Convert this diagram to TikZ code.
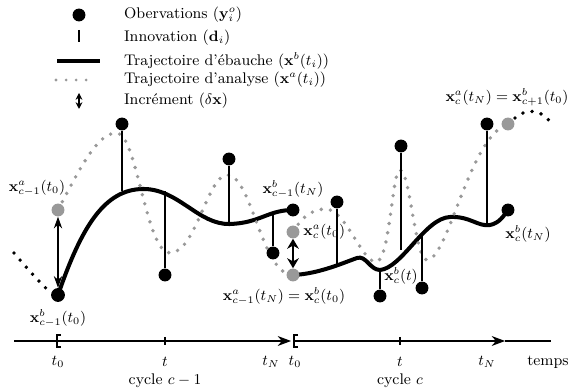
\documentclass[tikz,border=0pt]{standalone}
\usepackage{amsmath}
\usetikzlibrary{arrows.meta,positioning,calc}

\begin{document}
\begin{tikzpicture}[
    x=0.021cm, y=-0.021cm,
    >={Stealth[length=8pt,width=6pt]},
    every node/.style={font=\fontsize{9.2}{11}\selectfont},
    obs/.style={circle, fill=black, inner sep=0pt, minimum size=0.27cm},
    pgris/.style={circle, fill=gray!80, inner sep=0pt, minimum size=0.27cm},
    innov/.style={line width=0.7pt},
    ebauche/.style={line width=2.4pt, line cap=round},
    analyse/.style={gray!80, line width=2.3pt, line cap=round, dash pattern=on 0pt off 5.6pt},
    pointille/.style={black, line width=2.3pt, line cap=round, dash pattern=on 0pt off 5.6pt},
    incr/.style={{Stealth[length=7pt,width=5pt]}-{Stealth[length=7pt,width=5pt]}, line width=0.7pt},
    legende/.style={anchor=west, inner sep=1pt},
    etiq/.style={inner sep=1pt},
    crochet/.style={line width=1.4pt}
  ]
  \useasboundingbox (0,0) rectangle (571,389);

  % Légende
  \node[obs] (lobs) at (79,15) {};
  \node[legende] (tobs) at (122,15) {Obervations ($\mathbf{y}^o_i$)};
  \coordinate (li1) at (79,30);
  \coordinate (li2) at (79,42);
  \draw[line width=1pt] (li1) -- (li2);
  \node[legende] (tinn) at (122,38) {Innovation ($\mathbf{d}_i$)};
  \coordinate (le1) at (57,61);
  \coordinate (le2) at (100,61);
  \draw[ebauche, line cap=butt] (le1) -- (le2);
  \node[legende] (teb) at (122,61) {Trajectoire d'ébauche ($\mathbf{x}^b(t_i)$)};
  \coordinate (la1) at (56,80);
  \coordinate (la2) at (96,80);
  \draw[analyse, line width=1.8pt, dash pattern=on 0pt off 6pt] (la1) -- (la2);
  \node[legende] (tan) at (122,80) {Trajectoire d'analyse ($\mathbf{x}^a(t_i)$)};
  \coordinate (lc1) at (79,93);
  \coordinate (lc2) at (79,109);
  \draw[{Stealth[length=4pt,width=4pt]}-{Stealth[length=4pt,width=4pt]}, line width=1pt] (lc1) -- (lc2);
  \node[legende] (tinc) at (122,101) {Incrément ($\delta\mathbf{x}$)};

  % Points de départ et de fin des cycles
  \coordinate (b0) at (58,295);
  \coordinate (a0) at (58,210);
  \coordinate (bN) at (293,210);
  \coordinate (aN) at (293,275);
  \coordinate (ac0) at (293,232);
  \coordinate (bcN) at (508,210);
  \coordinate (acN) at (508,124);

  % Cycles précédent et suivant
  \coordinate (pp1) at (14,253);
  \coordinate (pp2) at (50,292);
  \draw[pointille] (pp1) .. controls (26,267) and (38,281) .. (pp2);
  \coordinate (ps1) at (515,118);
  \coordinate (ps2) at (553,126);
  \draw[pointille] (ps1) .. controls (526,108) and (542,108) .. (ps2);

  % Ébauches (cycles c-1 et c)
  \draw[ebauche] (b0) .. controls (82,225) and (105,190) .. (142,189)
     .. controls (178,188) and (198,225) .. (230,224)
     .. controls (260,223) and (268,210) .. (bN);
  \draw[ebauche] (aN) .. controls (318,274) and (343,263) .. (357,258)
     .. controls (366,255) and (370,270) .. (380,270)
     .. controls (402,268) and (425,218) .. (450,217)
     .. controls (470,216) and (478,227) .. (490,225)
     .. controls (500,223) and (504,215) .. (bcN);

  % Analyses
  \draw[analyse] (a0) .. controls (80,168) and (98,132) .. (117,133)
     .. controls (137,134) and (146,253) .. (170,253)
     .. controls (196,253) and (208,173) .. (228,175)
     .. controls (252,177) and (262,275) .. (aN);
  \draw[analyse] (ac0) .. controls (303,215) and (314,209) .. (326,209)
     .. controls (346,210) and (362,262) .. (376,262)
     .. controls (390,262) and (392,170) .. (400,170)
     .. controls (410,170) and (415,260) .. (427,260)
     .. controls (448,260) and (470,135) .. (acN);

  % Observations et innovations
  \foreach \n/\x/\y/\yb in {1/122/124/191, 2/165/275/191, 3/229/159/224,
      4/273/253/214, 5/337/202/267, 6/380/296/270, 7/401/146/250,
      8/422/288/236, 9/487/124/225}{
    \node[obs] (o\n) at (\x,\y) {};
    \coordinate (p\n) at (\x,\yb);
    \draw[innov] (o\n) -- (p\n);
  }

  % Points x^a et x^b
  \node[obs, minimum size=0.29cm] (nb0) at (b0) {};
  \node[pgris] (na0) at (a0) {};
  \node[obs] (nbN) at (bN) {};
  \node[pgris] (naN) at (aN) {};
  \node[pgris] (nac0) at (ac0) {};
  \node[obs] (nbcN) at (bcN) {};
  \node[pgris] (nacN) at (acN) {};

  % Incréments
  \draw[incr] (na0) -- (nb0);
  \draw[{Stealth[length=6pt,width=7pt]}-{Stealth[length=6pt,width=7pt]}, line width=1.6pt] (nac0) -- (naN);

  % Étiquettes
  \node[etiq] (ta0) at ($(a0)+(-21,-22)$) {$\mathbf{x}^a_{c-1}(t_0)$};
  \node[etiq, below=3pt of nb0] (tb0) {$\mathbf{x}^b_{c-1}(t_0)$};
  \node[etiq, above=2pt of nbN] (tbN) {$\mathbf{x}^b_{c-1}(t_N)$};
  \node[etiq, right=1pt of nac0] (tac0) {$\mathbf{x}^a_c(t_0)$};
  \node[etiq] (taN) at ($(aN)+(-9,21)$) {$\mathbf{x}^a_{c-1}(t_N) = \mathbf{x}^b_c(t_0)$};
  \node[etiq] (tbct) at (401,276) {$\mathbf{x}^b_c(t)$};
  \node[etiq] (tbcN) at ($(bcN)+(20,24)$) {$\mathbf{x}^b_c(t_N)$};
  \node[etiq] (tacN) at ($(acN)+(-1,-27)$) {$\mathbf{x}^a_c(t_N) = \mathbf{x}^b_{c+1}(t_0)$};

  % Axe du temps
  \coordinate (ax0) at (14,341);
  \coordinate (ax1) at (291,341);
  \coordinate (ax2) at (294,341);
  \coordinate (ax3) at (505,341);
  \coordinate (ax4) at (551,341);
  \draw[->, line width=0.7pt] (ax0) -- (ax1);
  \draw[->, line width=0.7pt] (ax2) -- (ax3);
  \draw[line width=0.7pt] (ax3) -- (ax4);
  \foreach \x in {57,294}
    \draw[crochet] (\x+4,335) -- (\x,335) -- (\x,347) -- (\x+4,347);
  \foreach \x in {165,400}
    \draw[line width=0.7pt] (\x,337) -- (\x,345);
  \foreach \x/\t in {58/t_0, 165/t, 271/t_N, 295/t_0, 400/t, 487/t_N}
    \node[etiq] at (\x,362) {$\t$};
  \node[etiq] (ttemps) at (548,362) {temps};
  \node[etiq] (tcyc1) at (165,381) {cycle $c-1$};
  \node[etiq] (tcyc2) at (400,381) {cycle $c$};
\end{tikzpicture}
\end{document}
